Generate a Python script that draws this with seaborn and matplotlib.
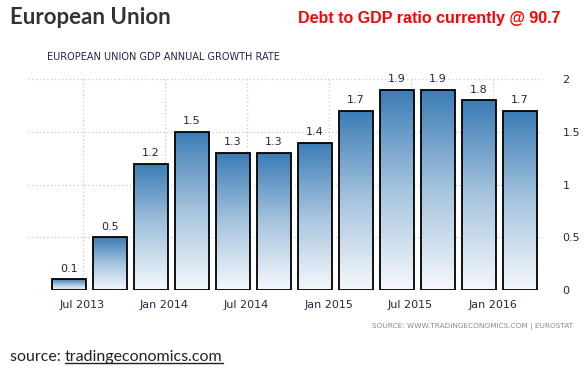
import numpy as np
import matplotlib
matplotlib.use("Agg")
import matplotlib.pyplot as plt
import seaborn as sns

# quarterly GDP annual growth rate, European Union
quarters = ['2013Q2', '2013Q3', '2013Q4', '2014Q1', '2014Q2', '2014Q3',
            '2014Q4', '2015Q1', '2015Q2', '2015Q3', '2015Q4', '2016Q1']
growth = [0.1, 0.5, 1.2, 1.5, 1.3, 1.3, 1.4, 1.7, 1.9, 1.9, 1.8, 1.7]
tick_labels = ['Jul 2013', 'Jan 2014', 'Jul 2014', 'Jan 2015', 'Jul 2015', 'Jan 2016']
y_ticks = [0, 0.5, 1, 1.5, 2]

sns.set_style("white")
plt.rcParams['font.family'] = ['DejaVu Sans']

navy = '#25254a'

fig = plt.figure(figsize=(5.88, 3.72), dpi=100)
ax = fig.add_axes([28 / 588, 1 - 290 / 372, (543 - 28) / 588, (290 - 79.3) / 372])

sns.barplot(x=quarters, y=growth, ax=ax, width=0.81, color='white',
            edgecolor='black', linewidth=1.3, zorder=3)

# vertical gradient inside each bar (dark blue at top, almost white at bottom)
grad = np.linspace(1, 0, 256).reshape(-1, 1)
cmap = matplotlib.colors.LinearSegmentedColormap.from_list(
    'tegrad', ['#f5f8fc', '#a6c4de', '#3b7cb5'])
for patch in ax.patches:
    patch.set_facecolor('none')
    x0, y0 = patch.get_x(), patch.get_y()
    w, h = patch.get_width(), patch.get_height()
    im = ax.imshow(grad, cmap=cmap, aspect='auto', extent=[x0, x0 + w, y0, y0 + h],
                   zorder=2.5, interpolation='bilinear')
    im.set_clip_path(patch)
    ax.annotate(f'{h:.1f}', (x0 + w / 2, y0 + h), xytext=(0, 4),
                textcoords='offset points', ha='center', va='bottom',
                fontsize=8, color=navy, zorder=4, annotation_clip=False)

ax.set_xlim(-1.0, 11.56)
ax.set_ylim(0, 2)
ax.set_xticks([0.33 + 2 * k for k in range(len(tick_labels))])
ax.set_xticklabels(tick_labels)
ax.set_yticks(y_ticks)
ax.set_yticklabels(['0', '0.5', '1', '1.5', '2'])
ax.yaxis.tick_right()
ax.tick_params(axis='y', length=0, pad=14, labelsize=8, labelcolor=navy)
ax.tick_params(axis='x', length=3, color='#bbbbbb', width=1, pad=4,
               labelsize=8, labelcolor=navy)
ax.grid(True, color='#c8c8c8', linestyle=(0, (1, 2)), linewidth=0.9, zorder=0)
ax.set_axisbelow(True)
for s in ax.spines.values():
    s.set_visible(False)
ax.set_xlabel('')
ax.set_ylabel('')

fig.text(10 / 588, 1 - 17 / 372, 'European Union', family='Lato', fontweight='bold',
         fontsize=16, color='#333333', va='center', ha='left')
fig.text(560 / 588, 1 - 19 / 372, 'Debt to GDP ratio currently @ 90.7',
         family='Liberation Sans', fontweight='bold', fontsize=11.5, color='#ff0000',
         va='center', ha='right')
fig.text(47 / 588, 1 - 57 / 372, 'EUROPEAN UNION GDP ANNUAL GROWTH RATE',
         fontsize=7, color=navy, va='center', ha='left')
fig.text(573 / 588, 1 - 327 / 372, 'SOURCE: WWW.TRADINGECONOMICS.COM | EUROSTAT',
         fontsize=5.3, color='#8a8a9a', va='center', ha='right')

t1 = fig.text(10 / 588, 1 - 357 / 372, 'source: ', family='Lato', fontsize=11.5,
              color='#222222', va='center', ha='left')
r = fig.canvas.get_renderer()
bb = t1.get_window_extent(r)
t2 = fig.text(bb.x1 / fig.bbox.width, 1 - 357 / 372, 'tradingeconomics.com',
              family='Lato', fontsize=11.5, color='#222222', va='center', ha='left')
bb2 = t2.get_window_extent(r)
uy = (bb2.y0 + 1.5) / fig.bbox.height
fig.add_artist(plt.Line2D([bb2.x0 / fig.bbox.width, bb2.x1 / fig.bbox.width], [uy, uy],
                          color='#222222', linewidth=1, transform=fig.transFigure))

fig.savefig('out.png', dpi=100)
